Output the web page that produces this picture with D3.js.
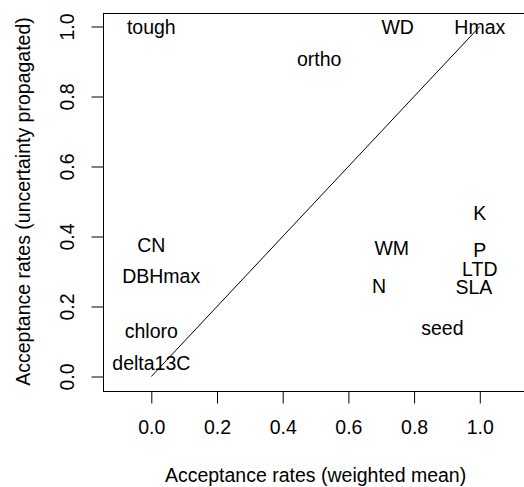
<!DOCTYPE html>
<html><head><meta charset="utf-8">
<script src="https://cdn.jsdelivr.net/npm/d3@7"></script>
<style>
body{margin:0;background:#fff}
svg{display:block}
text{font-family:"Liberation Sans",Arial,Helvetica,sans-serif;fill:#000}
</style>
</head><body><svg id="c" width="524" height="487"></svg>
<script>
const traits = ["tough","WD","Hmax","ortho","CN","DBHmax","chloro","delta13C","seed","WM","N","K","P","LTD","SLA"];
const weightedMean = [0, 0.75, 1.0, 0.511, 0, 0.03, 0, 0, 0.886, 0.732, 0.693, 1.0, 1.0, 1.0, 0.982];
const uncertaintyPropagated = [1.0, 1.0, 1.0, 0.908, 0.375, 0.288, 0.129, 0.04, 0.138, 0.368, 0.258, 0.467, 0.361, 0.308, 0.257];
const xTicks = [0, 0.2, 0.4, 0.6, 0.8, 1.0];
const yTicks = [0, 0.2, 0.4, 0.6, 0.8, 1.0];
const refLine = [[0, 0], [1, 1]];
const xTitle = "Acceptance rates (weighted mean)";
const yTitle = "Acceptance rates (uncertainty propagated)";

const FS = 19.5;
const svg = d3.select("#c");
const x = d3.scaleLinear().domain([-0.148, 1.148]).range([102.7, 528.4]);
const y = d3.scaleLinear().domain([-0.04, 1.04]).range([390.5, 12.5]);

// box
svg.append("rect")
  .attr("x", Math.round(x(-0.148)) + 0.5).attr("y", Math.round(y(1.04)) + 0.5)
  .attr("width", Math.round(x(1.148) - x(-0.148))).attr("height", Math.round(y(-0.04) - y(1.04)))
  .attr("fill", "none").attr("stroke", "#000").attr("stroke-width", 1);

// x axis
const gx = svg.append("g").attr("transform", `translate(0,${Math.round(y(-0.04)) + 0.5})`)
  .call(d3.axisBottom(x).tickValues(xTicks).tickSize(12).tickSizeOuter(0).tickFormat(d3.format(".1f")));
gx.select(".domain").remove();
gx.selectAll(".tick line").attr("stroke", "#000");
gx.selectAll(".tick text").attr("y", 434 - Math.round(y(-0.04)) - 0.5).attr("dy", null)
  .style("font-size", FS + "px").attr("font-family", null);

// y axis
const gy = svg.append("g").attr("transform", `translate(${Math.round(x(-0.148)) + 0.5},0)`)
  .call(d3.axisLeft(y).tickValues(yTicks).tickSize(12).tickSizeOuter(0).tickFormat(d3.format(".1f")));
gy.select(".domain").remove();
gy.selectAll(".tick line").attr("stroke", "#000");
gy.selectAll(".tick text")
  .attr("x", null).attr("dy", null).attr("text-anchor", "middle")
  .attr("transform", `translate(${74 - Math.round(x(-0.148)) - 0.5},0) rotate(-90)`)
  .style("font-size", FS + "px").attr("font-family", null);
svg.selectAll(".tick text").attr("fill", "#000");

// reference line
svg.append("path")
  .attr("d", d3.line().x(d => x(d[0])).y(d => y(d[1]))(refLine))
  .attr("stroke", "#000").attr("stroke-width", 1).attr("fill", "none");

// labels
svg.append("g").selectAll("text").data(traits).join("text")
  .attr("x", (d, i) => x(weightedMean[i]))
  .attr("y", (d, i) => y(uncertaintyPropagated[i]))
  .attr("dy", "0.36em")
  .attr("text-anchor", "middle")
  .style("font-size", FS + "px")
  .text(d => d);

// titles
svg.append("text").attr("x", (x(-0.148) + x(1.148)) / 2).attr("y", 481.5)
  .attr("text-anchor", "middle").style("font-size", FS + "px").text(xTitle);
svg.append("text").attr("transform", `translate(30,${(y(-0.04) + y(1.04)) / 2}) rotate(-90)`)
  .attr("text-anchor", "middle").style("font-size", FS + "px").text(yTitle);
</script>
</body></html>
